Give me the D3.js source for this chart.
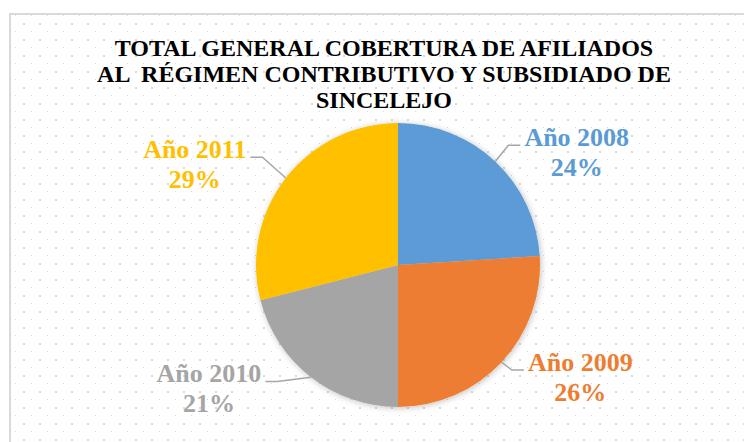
<!DOCTYPE html>
<html>
<head>
<meta charset="utf-8">
<script src="https://cdn.jsdelivr.net/npm/d3@7"></script>
<style>
html,body{margin:0;padding:0;background:#fff;}
svg{display:block;}
</style>
</head>
<body>
<svg id="chart" width="744" height="442"></svg>
<script>
const categories = ["Año 2008", "Año 2009", "Año 2010", "Año 2011"];
const values = [24, 26, 21, 29];
const colors = ["#5B9BD5", "#ED7D31", "#A5A5A5", "#FFC000"];
const titleLines = ["TOTAL GENERAL COBERTURA DE AFILIADOS", "AL  RÉGIMEN CONTRIBUTIVO Y SUBSIDIADO DE", "SINCELEJO"];

const W = 744, H = 442;
const svg = d3.select("#chart");
const defs = svg.append("defs");

const pat = defs.append("pattern").attr("id", "dots").attr("patternUnits", "userSpaceOnUse")
  .attr("width", 16).attr("height", 16);
pat.append("rect").attr("x", 15).attr("y", 15).attr("width", 2).attr("height", 2).attr("fill", "#dadada");
pat.append("rect").attr("x", 7).attr("y", 7).attr("width", 2).attr("height", 2).attr("fill", "#dadada");

const flt = defs.append("filter").attr("id", "shadow").attr("x", "-20%").attr("y", "-20%").attr("width", "140%").attr("height", "140%");
flt.append("feDropShadow").attr("dx", 1).attr("dy", 1).attr("stdDeviation", 3)
  .attr("flood-color", "#000").attr("flood-opacity", 0.25);

// chart area background & border
svg.append("rect").attr("x", 10).attr("y", 14).attr("width", W).attr("height", H).attr("fill", "#fff");
svg.append("rect").attr("x", 10).attr("y", 14).attr("width", W).attr("height", H).attr("fill", "url(#dots)");
svg.append("rect").attr("x", 10).attr("y", 14).attr("width", W + 10).attr("height", H + 10)
  .attr("fill", "none").attr("stroke", "#d9d9d9").attr("stroke-width", 2);

const serif = "'Liberation Serif','Times New Roman',serif";

// title
const title = svg.append("text").attr("x", 384).attr("y", 56)
  .attr("text-anchor", "middle")
  .style("font-family", serif)
  .style("font-weight", "bold").style("font-size", "24px").attr("fill", "#000")
  .style("white-space", "pre");
titleLines.forEach((t, i) => {
  title.append("tspan").attr("x", 384).attr("dy", i === 0 ? 0 : 26).text(t);
});

// pie
const cx = 398, cy = 265, r = 142;
const data = categories.map((c, i) => ({ cat: c, value: values[i], color: colors[i] }));
const pie = d3.pie().value(d => d.value).sort(null);
const arcs = pie(data);
const arc = d3.arc().innerRadius(0).outerRadius(r);
const total = d3.sum(values);

const g = svg.append("g").attr("transform", `translate(${cx},${cy})`);
g.append("g").attr("filter", "url(#shadow)")
  .selectAll("path").data(arcs).join("path")
  .attr("d", arc).attr("fill", d => d.data.color);

// labels
const lg = svg.append("g");
arcs.forEach(a => {
  const mid = (a.startAngle + a.endAngle) / 2;
  const s = Math.sin(mid), c = Math.cos(mid);
  const side = s >= 0 ? 1 : -1;
  const lx = cx - 8 + 80 * s + side * 132;
  const ly = cy - 60 * c - (c >= 0 ? 1 : -1) * 70 - (side > 0 ? 5 : 0);
  const t = lg.append("text").attr("x", lx).attr("y", ly).attr("text-anchor", "middle")
    .style("font-family", serif)
    .style("font-weight", "bold").style("font-size", "26px").attr("fill", a.data.color);
  t.append("tspan").attr("x", lx).attr("dy", 0).text(a.data.cat);
  t.append("tspan").attr("x", lx).attr("dy", 30).text(Math.round(a.data.value / total * 100) + "%");
  const w = t.select("tspan").node().getComputedTextLength();
  const lineEnd = lx - side * (w / 2 + 4);
  const elbow = lineEnd - side * 12;
  const ex = cx + r * s, ey = cy - r * c;
  lg.append("path")
    .attr("d", `M${ex},${ey}L${elbow},${ly - 1}L${lineEnd},${ly - 1}`)
    .attr("fill", "none").attr("stroke", "#a6a6a6").attr("stroke-width", 1.5);
});
</script>
</body>
</html>
